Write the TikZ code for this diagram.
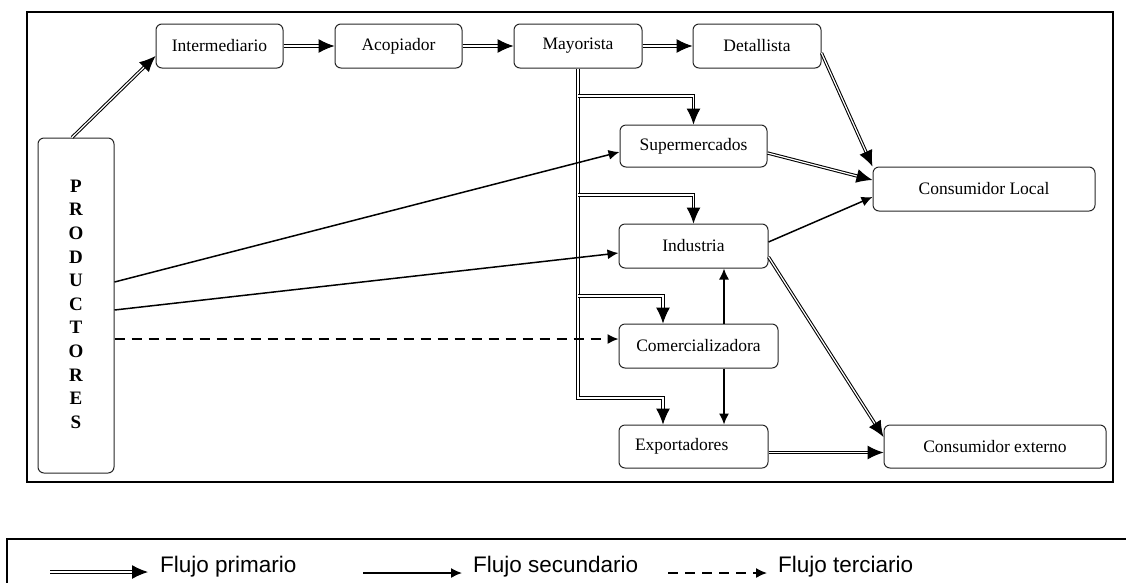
\documentclass[tikz,border=0pt]{standalone}
\usepackage{fontspec}
\setmainfont{Liberation Serif}
\newfontfamily\legfont{Liberation Sans}
\usetikzlibrary{arrows.meta}
\begin{document}
\begin{tikzpicture}[x=1pt,y=-1pt,
  box/.style={draw=black!85, line width=1pt, rounded corners=6pt, inner sep=0pt,
    font=\fontsize{17.5}{20}\selectfont},
  primary/.style={double, double distance=1.2pt, line width=1.05pt,
    -{Latex[length=16pt,width=14pt]}},
  secondary/.style={line width=1.5pt, -{Latex[length=11pt,width=10pt]}},
  tertiary/.style={line width=1.5pt, dash pattern=on 10pt off 7pt, -{Latex[length=11pt,width=10pt]}},
  legtext/.style={anchor=base west, inner sep=0pt, font=\legfont\fontsize{22.5}{26}\selectfont}]
\useasboundingbox (0,0) rectangle (1126,582);
\clip (0,0) rectangle (1126,582);
% frames
\draw[line width=1.5pt] (27,12) rectangle (1113,482);
\draw[line width=1.5pt] (7,600) -- (7,539) -- (1140,539);
% nodes
\node[box, minimum width=127pt, minimum height=44pt] (inter) at (219.5,46) {Intermediario};
\node[box, minimum width=127pt, minimum height=44pt] (acop) at (398.5,46) {Acopiador};
\node[box, minimum width=128pt, minimum height=44pt] (mayor) at (578,46) {Mayorista};
\node[box, minimum width=128pt, minimum height=44pt] (detal) at (757,46) {Detallista};
\node[box, minimum width=147pt, minimum height=42pt] (super) at (693.5,146) {Supermercados};
\node[box, minimum width=222pt, minimum height=44pt] (conloc) at (984,189) {Consumidor Local};
\node[box, minimum width=149pt, minimum height=44pt] (indus) at (693.5,246) {Industria};
\node[box, minimum width=159pt, minimum height=44pt] (comer) at (698.5,346) {Comercializadora};
\node[box, minimum width=149pt, minimum height=43pt, text width=117pt, align=left, inner xsep=16pt] (export) at (693.5,446.5) {Exportadores};
\node[box, minimum width=222pt, minimum height=43pt] (conext) at (995,446.5) {Consumidor externo};
\node[box, minimum width=76pt, minimum height=335pt,
  font=\bfseries\fontsize{19}{23.6}\selectfont] (prod) at (76,305.5)
  {\raisebox{-12pt}{\begin{tabular}{@{}c@{}}P\\R\\O\\D\\U\\C\\T\\O\\R\\E\\S\end{tabular}}};
% coordinates
\coordinate (b1) at (578,96);
\coordinate (b2) at (578,195);
\coordinate (b3) at (578,296);
\coordinate (b4) at (663,398);
\coordinate (cx) at (724,0);
\coordinate (cx2) at (663,0);
% primary flows
\draw[primary] ([xshift=-4pt]prod.north) -- ([yshift=-10pt]inter.west);
\draw[primary] (inter.east) -- (acop.west);
\draw[primary] (acop.east) -- (mayor.west);
\draw[primary] (mayor.east) -- (detal.west);
\draw[primary] ([yshift=-7pt]detal.east) -- (conloc.north west);
\draw[primary] ([yshift=-7pt]super.east) -- ([yshift=9pt]conloc.west);
\draw[primary] ([yshift=-11pt]indus.east) -- ([yshift=9.5pt]conext.west);
\draw[primary] ([yshift=-6pt]export.east) -- ([yshift=-6pt]conext.west);
\draw[primary] (mayor.south) |- (b4) -- (export.north -| b4);
\draw[primary] (b1) -| (super.north);
\draw[primary] (b2) -| (indus.north);
\draw[primary] (b3) -| (comer.north -| cx2);
% secondary flows
\draw[secondary] ([yshift=23.5pt]prod.east) -- ([yshift=-6pt]super.west);
\draw[secondary] ([yshift=-4.5pt]prod.east) -- ([yshift=-7pt]indus.west);
\draw[secondary] ([yshift=4pt]indus.east) -- ([yshift=-8pt]conloc.west);
\draw[secondary] (comer.north -| cx) -- (indus.south -| cx);
\draw[secondary] (comer.south -| cx) -- (export.north -| cx);
% tertiary flow
\draw[tertiary] ([yshift=-33.5pt]prod.east) -- ([yshift=-33.5pt]prod.east -| comer.west);
% legend
\coordinate (l1a) at (50,572); \coordinate (l1b) at (148,572);
\coordinate (l2a) at (363,573); \coordinate (l2b) at (462,573);
\coordinate (l3a) at (668,573); \coordinate (l3b) at (767,573);
\draw[primary] (l1a) -- (l1b);
\draw[secondary] (l2a) -- (l2b);
\draw[tertiary] (l3a) -- (l3b);
\node[legtext] (t1) at (160,572) {Flujo primario};
\node[legtext] (t2) at (473,572) {Flujo secundario};
\node[legtext] (t3) at (778,572) {Flujo terciario};
\end{tikzpicture}
\end{document}
